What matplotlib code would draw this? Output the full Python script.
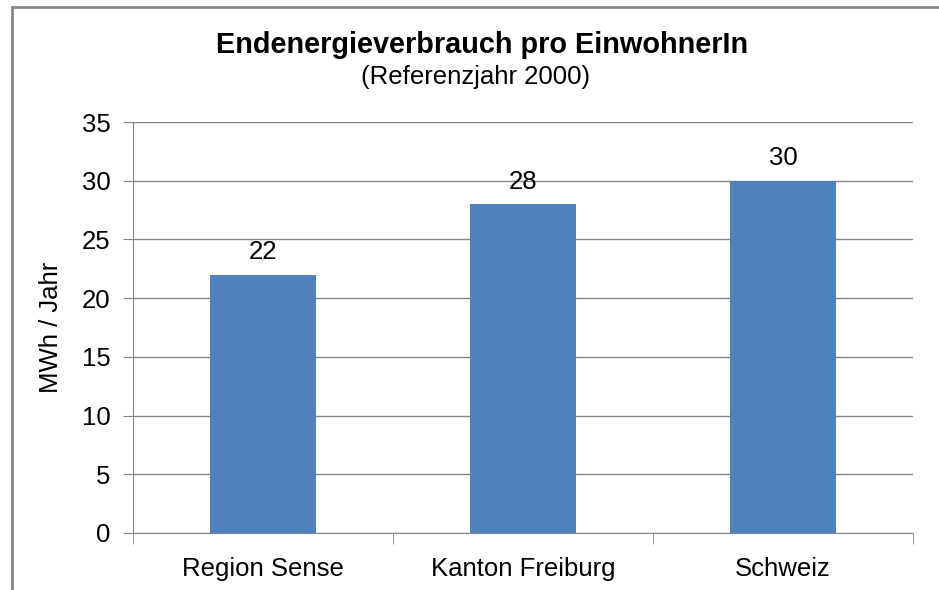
import matplotlib
import numpy as np

matplotlib.use("Agg")
import matplotlib.pyplot as plt
from matplotlib.patches import Rectangle

categories = ["Region Sense", "Kanton Freiburg", "Schweiz"]
values = [22, 28, 30]
y_ticks = [0, 5, 10, 15, 20, 25, 30, 35]

plt.rcParams["font.family"] = ["Liberation Sans", "DejaVu Sans"]

fig = plt.figure(figsize=(9.39, 5.9), dpi=100)
ax = fig.add_axes([133 / 939, 1 - 533 / 590, 780 / 939, 411 / 590])

# outer chart frame (right and bottom edges run off the image)
fig.patches.append(Rectangle((12 / 939, -0.1), 1.2, 1 - 7 / 590 + 0.1,
                             transform=fig.transFigure, fill=False,
                             edgecolor="#868686", linewidth=2))

x = np.arange(len(categories))
ax.bar(x, values, width=0.405, color="#4f81bd", zorder=3)

for xi, v in zip(x, values):
    ax.text(xi, v + 0.9, str(v), ha="center", va="bottom", fontsize=18.5)

ax.set_xlim(-0.5, len(categories) - 0.5)
ax.set_ylim(0, 35)
ax.set_yticks(y_ticks)
ax.set_yticklabels([str(t) for t in y_ticks], fontsize=18.5)
ax.set_xticks(x)
ax.set_xticklabels(categories, fontsize=18.5)
ax.set_xticks(np.arange(len(categories) + 1) - 0.5, minor=True)
ax.tick_params(axis="x", which="major", length=0, pad=17)
ax.tick_params(axis="x", which="minor", length=8, color="#868686")
ax.tick_params(axis="y", length=7, color="#868686", pad=9)

ax.grid(axis="y", color="#868686", linewidth=1, zorder=0)
for side in ["top", "right"]:
    ax.spines[side].set_visible(False)
for side in ["left", "bottom"]:
    ax.spines[side].set_color("#868686")

ax.set_ylabel("MWh / Jahr", fontsize=18.5, labelpad=14)

fig.text(482 / 939, 1 - 45 / 590, "Endenergieverbrauch pro EinwohnerIn",
         ha="center", va="center", fontsize=20.8, fontweight="bold")
fig.text(476 / 939, 1 - 77 / 590, "(Referenzjahr 2000)",
         ha="center", va="center", fontsize=18.5)

fig.savefig("out.png", dpi=100)
